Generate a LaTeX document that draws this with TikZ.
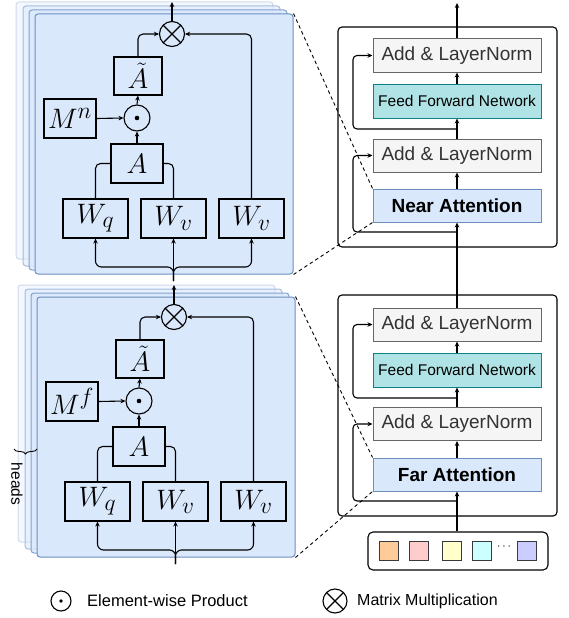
\documentclass[tikz,border=0pt]{standalone}
\usepackage{graphicx}
\usepackage{fontspec}
\setmainfont{Liberation Sans}
\usetikzlibrary{arrows.meta,decorations.pathreplacing,calc}
\definecolor{pfill}{HTML}{DAE8FC}
\definecolor{pdraw}{HTML}{6C8EBF}
\definecolor{lnfill}{HTML}{F5F5F5}
\definecolor{lndraw}{HTML}{666666}
\definecolor{lntext}{HTML}{333333}
\definecolor{ffill}{HTML}{B0E3E6}
\definecolor{fdraw}{HTML}{0E8088}
\definecolor{tokA}{HTML}{FFCC99}
\definecolor{tokB}{HTML}{FFCCCC}
\definecolor{tokC}{HTML}{FFFFCC}
\definecolor{tokD}{HTML}{CCFFFF}
\definecolor{tokE}{HTML}{CCCCFF}
\definecolor{tokdraw}{HTML}{36393D}
\newcommand\mtxt[1]{\scalebox{1.13}{$#1$}}
\tikzset{
  arr/.style={-{Stealth[length=5pt,width=4.5pt]}, line width=1.1pt},
  ln/.style={line width=1.1pt},
  mbox/.style={draw, line width=1.1pt, inner sep=0pt, minimum height=39pt,
    font=\fontsize{24.88}{28}\selectfont},
  panel/.style={draw=pdraw, fill=pfill, line width=1pt, rounded corners=3pt, inner sep=0pt},
  backpanel/.style={draw=pdraw, fill=pfill, line width=1pt, rounded corners=3pt},
  lnbox/.style={draw=lndraw, fill=lnfill, text=lntext, line width=1pt, minimum width=168pt,
    minimum height=33pt, inner sep=0pt, font=\fontsize{19}{22}\selectfont},
  ffnbox/.style={draw=fdraw, fill=ffill, line width=1pt, minimum width=168pt,
    minimum height=34pt, inner sep=0pt, font=\fontsize{15.5}{18}\selectfont},
  attbox/.style={draw=pdraw, fill=pfill, line width=1pt, minimum width=168pt,
    minimum height=33pt, inner sep=0pt, font=\fontsize{19}{22}\selectfont\bfseries},
  outerbox/.style={draw, line width=1.1pt, rounded corners=4pt, inner sep=0pt},
  tok/.style={draw=tokdraw, line width=1pt, minimum size=19pt, inner sep=0pt},
  odotc/.style={circle, draw, line width=1.1pt, inner sep=0pt},
  otimesc/.style={circle, draw, line width=1.1pt, inner sep=0pt,
    path picture={\draw[line width=1.1pt] (path picture bounding box.south west) -- (path picture bounding box.north east)
      (path picture bounding box.north west) -- (path picture bounding box.south east);}},
  dashc/.style={dash pattern=on 3.5pt off 3pt, line width=0.9pt},
}
\newcommand\attnpanel[3]{%
\begin{scope}[shift={#2}]
  \path[backpanel, fill opacity=0.3, draw opacity=0.3] (16,2) rectangle (273,259);
  \path[backpanel, fill opacity=0.55, draw opacity=0.55] (23,6) rectangle (280,266);
  \path[backpanel, fill opacity=0.8, draw opacity=0.8] (29,10) rectangle (287,270);
  \node[panel, minimum width=258pt, minimum height=260pt] (#1-p) at (164,144) {};
  \node[otimesc, minimum size=25pt] (#1-ot) at (172,34) {};
  \node[mbox, minimum width=48pt, minimum height=38pt] (#1-at) at (138,76) {\mtxt{\tilde{A}}};
  \node[odotc, minimum size=26pt] (#1-od) at (137,118) {};
  \fill (#1-od) circle (2.3pt);
  \node[mbox, minimum width=52pt] (#1-m) at (70,118.5) {\mtxt{#3}};
  \node[mbox, minimum width=52pt] (#1-a) at (137,163.5) {\mtxt{A}};
  \node[mbox, minimum width=65pt] (#1-wq) at (95.5,218.5) {\mtxt{W_q}};
  \node[mbox, minimum width=65pt] (#1-wv) at (173.5,218.5) {\mtxt{W_v}};
  \node[mbox, minimum width=65pt] (#1-wv2) at (251.5,218.5) {\mtxt{W_v}};
  \coordinate (#1-in) at (173.5,281);
  \coordinate (#1-br) at (173.5,267);
  \coordinate (#1-out) at (172,2);
  \draw[arr] (#1-in) -- (#1-wv.south);
  \draw[arr, rounded corners=6pt] (#1-in) -- (#1-br) -| (#1-wq.south);
  \draw[arr, rounded corners=6pt] (#1-in) -- (#1-br) -| (#1-wv2.south);
  \draw[ln, rounded corners=5pt] (#1-wq.north) |- (#1-a.west);
  \draw[ln, rounded corners=5pt] (#1-wv.north) |- (#1-a.east);
  \draw[arr] (#1-a.north) -- (#1-od.south);
  \draw[arr] (#1-m.east) -- (#1-od.west);
  \draw[arr] (#1-od.north) -- (#1-at.south);
  \draw[arr, rounded corners=5pt] (#1-at.north) |- (#1-ot.west);
  \draw[arr, rounded corners=5pt] (#1-wv2.north) |- (#1-ot.east);
  \draw[arr] (#1-ot.north) -- (#1-out);
\end{scope}}
\begin{document}
\begin{tikzpicture}[x=1pt, y=-1pt]
\useasboundingbox (0,0) rectangle (569,618);
% left panels
\attnpanel{top}{(0,0)}{M^n}
\attnpanel{bot}{(2,283)}{M^f}
% heads brace
\draw[line width=0.9pt, decorate, decoration={brace, amplitude=5pt}] (37,449) -- (14,449);
\node[rotate=-90, font=\fontsize{15.5}{18}\selectfont] (heads) at (17,484) {heads};
% right: upper block
\node[outerbox, minimum width=219pt, minimum height=220pt] (blkN) at (447.5,137) {};
\node[lnbox] (ln1) at (457,55.5) {Add \& LayerNorm};
\node[ffnbox] (ffn1) at (457,101) {Feed Forward Network};
\node[lnbox] (ln2) at (457,155.5) {Add \& LayerNorm};
\node[attbox] (near) at (457,205.5) {Near Attention};
% right: lower block
\node[outerbox, minimum width=219pt, minimum height=221pt] (blkF) at (447.5,405.5) {};
\node[lnbox] (ln3) at (457,324.5) {Add \& LayerNorm};
\node[ffnbox] (ffn2) at (457,370) {Feed Forward Network};
\node[lnbox] (ln4) at (457,424) {Add \& LayerNorm};
\node[attbox] (far) at (457,474.5) {Far Attention};
% input tokens
\node[outerbox, rounded corners=5pt, minimum width=180pt, minimum height=38pt] (inp) at (458,551) {};
\node[tok, fill=tokA] (t1) at (388.5,550.5) {};
\node[tok, fill=tokB] (t2) at (419,550.5) {};
\node[tok, fill=tokC] (t3) at (451.5,550.5) {};
\node[tok, fill=tokD] (t4) at (482,550.5) {};
\node[font=\fontsize{12}{14}\selectfont] (dots) at (504,547) {$\cdots$};
\node[tok, fill=tokE] (t5) at (527,550.5) {};
% main flow
\coordinate (fin) at (457,3);
\draw[arr] (inp.north -| far.south) -- (far.south);
\draw[arr] (far.north) -- (ln4.south);
\draw[arr] (ln4.north) -- (ffn2.south);
\draw[arr] (ffn2.north) -- (ln3.south);
\draw[arr] (ln3.north) -- (near.south);
\draw[arr] (near.north) -- (ln2.south);
\draw[arr] (ln2.north) -- (ffn1.south);
\draw[arr] (ffn1.north) -- (ln1.south);
\draw[arr] (ln1.north) -- (fin);
% residuals
\coordinate (lx) at (353,0);
\coordinate (r1) at (457,232);
\coordinate (r2) at (457,129);
\coordinate (r3) at (457,501);
\coordinate (r4) at (457,398);
\draw[arr, rounded corners=4pt] (r1) -- (r1 -| lx) |- (ln2.west);
\draw[arr, rounded corners=4pt] (r2) -- (r2 -| lx) |- (ln1.west);
\draw[arr, rounded corners=4pt] (r3) -- (r3 -| lx) |- (ln4.west);
\draw[arr, rounded corners=4pt] (r4) -- (r4 -| lx) |- (ln3.west);
% dashed zoom lines
\draw[dashc] (top-p.north east) -- (near.north west);
\draw[dashc] (top-p.south east) -- (near.south west);
\draw[dashc] (bot-p.north east) -- (far.north west);
\draw[dashc] (bot-p.south east) -- (far.south west);
% legend
\node[odotc, minimum size=20pt] (lgod) at (61,601) {};
\fill (lgod) circle (1.8pt);
\node[anchor=west, inner sep=0pt, font=\fontsize{16.5}{19}\selectfont] (lgodt) at (87,601) {Element-wise Product};
\node[otimesc, minimum size=24pt] (lgot) at (335,601) {};
\node[anchor=west, inner sep=0pt, font=\fontsize{16}{19}\selectfont] (lgott) at (357,601) {Matrix Multiplication};
\end{tikzpicture}
\end{document}
